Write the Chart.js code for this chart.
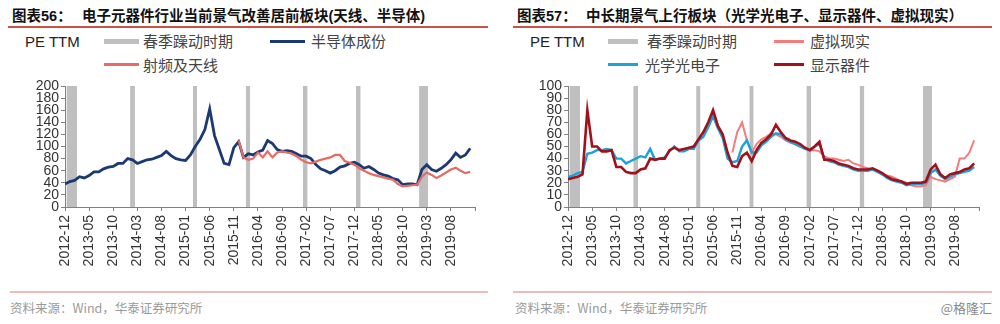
<!DOCTYPE html>
<html><head><meta charset="utf-8">
<script src="https://cdn.jsdelivr.net/npm/chart.js@4.4.1/dist/chart.umd.min.js"></script>
<style>
body{margin:0;width:1000px;height:324px;background:#fff;position:relative;overflow:hidden;font-family:"Liberation Sans",Arial,"Noto Sans CJK SC",sans-serif;}
.a{position:absolute;white-space:nowrap;}
.t{font-family:"Liberation Sans","Noto Sans CJK SC",sans-serif;font-weight:bold;font-size:14.5px;color:#111;top:7px;line-height:18px;}
.rule{position:absolute;height:2px;background:#C9524C;top:26px;}
.frule{position:absolute;height:2px;background:#EDBDBB;top:291px;}
.pe{font-size:15px;color:#222;top:33px;line-height:18px;}
.lg{font-family:"Noto Sans CJK SC",sans-serif;font-size:15px;color:#444;line-height:18px;}
.src{font-family:"Noto Sans CJK SC","Liberation Sans",sans-serif;font-size:12.5px;color:#9a9a9a;top:299px;line-height:18px;}
canvas{position:absolute;}
</style></head>
<body>
<!-- left panel header -->
<div class="a t" style="left:12px">图表56：</div>
<div class="a t" style="left:82px">电子元器件行业当前景气改善居前板块(天线、半导体)</div>
<div class="rule" style="left:8px;width:480px"></div>
<div class="a pe" style="left:25px">PE TTM</div>
<div class="a" style="left:104px;top:39px;width:35px;height:5px;background:#BFBFBF"></div>
<div class="a lg" style="left:143px;top:32px">春季躁动时期</div>
<div class="a" style="left:270px;top:40px;width:35px;height:3px;background:#1B3A73"></div>
<div class="a lg" style="left:311px;top:32px">半导体成份</div>
<div class="a" style="left:104px;top:63px;width:35px;height:3px;background:#E86A64"></div>
<div class="a lg" style="left:143px;top:56px">射频及天线</div>
<!-- right panel header -->
<div class="a t" style="left:517px">图表57：</div>
<div class="a t" style="left:586px">中长期景气上行板块（光学光电子、显示器件、虚拟现实）</div>
<div class="rule" style="left:513px;width:479px"></div>
<div class="a pe" style="left:530px">PE TTM</div>
<div class="a" style="left:608px;top:39px;width:30px;height:5px;background:#BFBFBF"></div>
<div class="a lg" style="left:647px;top:32px">春季躁动时期</div>
<div class="a" style="left:774px;top:40px;width:30px;height:3px;background:#F47C7C"></div>
<div class="a lg" style="left:810px;top:32px">虚拟现实</div>
<div class="a" style="left:608px;top:63px;width:30px;height:3px;background:#1AA3DB"></div>
<div class="a lg" style="left:645px;top:56px">光学光电子</div>
<div class="a" style="left:774px;top:63px;width:30px;height:3px;background:#A0111A"></div>
<div class="a lg" style="left:810px;top:56px">显示器件</div>

<canvas id="c1" width="500" height="220" style="left:0;top:70px"></canvas>
<canvas id="c2" width="500" height="220" style="left:500px;top:70px"></canvas>

<div class="frule" style="left:10px;width:478px"></div>
<div class="frule" style="left:513px;width:479px"></div>
<div class="a src" style="left:10px">资料来源：Wind，华泰证券研究所</div>
<div class="a src" style="left:515px">资料来源：Wind，华泰证券研究所</div>
<div class="a src" style="right:8px;font-size:13px;color:#8a8a8a">@格隆汇</div>

<script>
// x axis: months after 2012-12 (0 = 2012-12), tick every 5 months
const tickLabels = ['2012-12','2013-05','2013-10','2014-03','2014-08','2015-01','2015-06','2015-11','2016-04','2016-09','2017-02','2017-07','2017-12','2018-05','2018-10','2019-03','2019-08'];
const xMax = 85;
// spring rally periods (春季躁动时期), in months after 2012-12
const springStart = [0.3, 13.5, 26.5, 37.5, 49.3, 60.3, 73.4];
const springEnd   = [2.5, 14.5, 27.4, 38.4, 50.3, 61.3, 75.3];

// Chart 56 (monthly, from 2012-12)
const semiconductor = [38,42,44,50,48,52,58,58,63,66, 67,72,72,80,78,72,75,78,79,82,
  85,92,85,80,78,77,86,100,112,128, 162,118,95,72,70,98,108,82,88,86,
  91,94,110,105,95,92,93,92,88,84, 84,80,70,63,60,56,60,66,68,72,
  74,70,64,67,62,56,53,51,47,45, 37,38,38,37,62,70,62,59,64,70,
  78,89,82,86,97];
const rfAntennaStart = 36;
const rfAntenna = [110,82,78,80,90,82,92,82,90,92, 90,88,84,78,74,72,75,78,80,82,
  86,86,76,73,70,64,60,56,53,51, 49,47,45,38,34,35,36,37,50,57,
  53,48,52,57,62,65,60,56,58];

// Chart 57 (monthly, from 2012-12)
const display = [23,24,25,27,80,50,50,46,46,47, 33,33,29,28,28,31,32,40,39,40,
  40,47,49,47,48,49,50,56,62,70, 80,67,60,45,34,33,42,45,38,47,
  53,56,60,68,62,57,55,54,52,49, 47,50,54,39,39,38,36,35,34,32,
  31,31,31,32,30,28,25,23,22,21, 19,20,20,20,21,31,35,27,24,27,
  28,29,31,32,36];
const optical = [25,26,28,29,44,45,47,47,48,47, 40,40,36,38,40,42,41,48,39,40,
  41,46,50,46,46,48,48,55,58,66, 75,65,57,40,37,38,50,55,45,45,
  51,54,58,61,60,56,54,52,50,48, 47,50,52,40,38,37,35,34,33,31,
  30,30,30,31,29,27,24,22,21,20, 18,19,19,19,20,28,31,26,23,25,
  27,28,29,30,33];
const vrStart = 34;
const vr = [45,62,70,55,45,52,56,58,61,60, 58,55,53,52,50,49,47,47,46,42,
  40,40,39,38,39,36,35,33,32,31, 29,27,26,25,23,21,20,18,17,17,
  18,25,23,22,21,23,25,40,40,45, 55];

Chart.defaults.font.family = '"Liberation Sans", Arial, sans-serif';

function pts(vals, start) { return vals.map((v, i) => ({x: (start || 0) + i, y: v})); }
function springPts(top) {
  const a = [];
  springStart.forEach((s, i) => { a.push({x: s, y: top}, {x: springEnd[i], y: top}, {x: springEnd[i], y: null}); });
  return a;
}
function springDs(top) {
  return {label: '春季躁动时期', data: springPts(top), borderColor: 'rgba(0,0,0,0)', borderWidth: 0,
    backgroundColor: '#BFBFBF', fill: 'origin', spanGaps: false, pointRadius: 0, order: 10};
}
function lineDs(label, data, color, w, order) {
  return {label, data, borderColor: color, borderWidth: w, fill: false, pointRadius: 0, tension: 0, order};
}
function makeChart(id, datasets, yMax, yStep, padRight, yWidth) {
  const axisColor = '#808080';
  const tickFont = {size: 14};
  return new Chart(document.getElementById(id), {
    type: 'line',
    data: {datasets},
    options: {
      responsive: false, animation: false, devicePixelRatio: 1,
      layout: {padding: {top: 16, right: padRight, left: 0, bottom: 0}},
      plugins: {legend: {display: false}, tooltip: {enabled: false}},
      scales: {
        x: {
          type: 'linear', min: 0, max: xMax,
          afterBuildTicks: s => { s.ticks = tickLabels.map((_, i) => ({value: i * 5})).concat([{value: xMax}]); },
          afterFit: s => { s.height = 83; },
          ticks: {autoSkip: false, maxRotation: 90, minRotation: 90, padding: 4, font: tickFont, color: '#333',
            callback: v => (tickLabels[Math.round(v / 5)] !== undefined && v < xMax ? tickLabels[Math.round(v / 5)] : '')},
          grid: {drawOnChartArea: false, tickLength: 4, color: axisColor},
          border: {color: axisColor, width: 1}
        },
        y: {
          min: 0, max: yMax,
          afterFit: s => { s.width = yWidth; },
          ticks: {stepSize: yStep, autoSkip: false, padding: 2, font: tickFont, color: '#333'},
          grid: {drawOnChartArea: false, tickLength: 4, color: axisColor},
          border: {color: axisColor, width: 1}
        }
      }
    }
  });
}

makeChart('c1', [
  springDs(200),
  lineDs('半导体成份', pts(semiconductor), '#1B3A73', 2.8, 2),
  lineDs('射频及天线', pts(rfAntenna, rfAntennaStart), '#E86A64', 2.2, 1)
], 200, 20, 25, 65);

makeChart('c2', [
  springDs(100),
  lineDs('虚拟现实', pts(vr, vrStart), '#F47C7C', 2, 3),
  lineDs('光学光电子', pts(optical), '#1AA3DB', 2.4, 2),
  lineDs('显示器件', pts(display), '#A0111A', 2.6, 1)
], 100, 10, 21, 68);
</script>
</body></html>
